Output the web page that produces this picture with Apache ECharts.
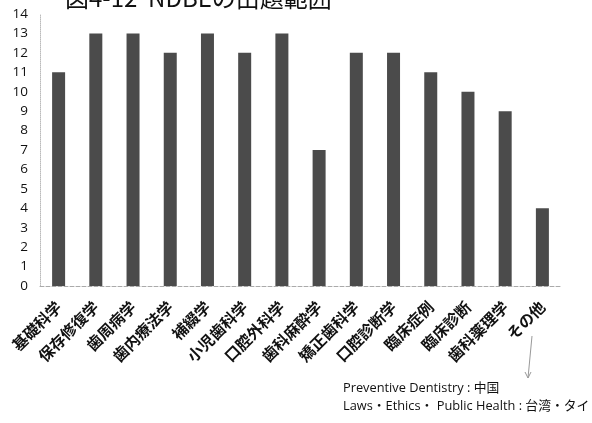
<!DOCTYPE html>
<html><head><meta charset="utf-8">
<script src="https://cdn.jsdelivr.net/npm/echarts@6/dist/echarts.min.js"></script>
<style>html,body{margin:0;padding:0;background:#fff}#c{width:592px;height:423px}</style>
</head><body><div id="c"></div>
<script>
const categories = ['基礎科学','保存修復学','歯周病学','歯内療法学','補綴学','小児歯科学','口腔外科学','歯科麻酔学','矯正歯科学','口腔診断学','臨床症例','臨床診断','歯科薬理学','その他'];
const counts = [11,13,13,12,13,12,13,7,12,12,11,10,9,4];
const yTicks = {min:0, max:14, interval:1};
const titleText = '図4-12  NDBEの出題範囲';
const noteLines = ['Preventive Dentistry : 中国','Laws・Ethics・ Public Health : 台湾・タイ'];

const chart = echarts.init(document.getElementById('c'));
chart.setOption({
  backgroundColor:'#fff',
  animation:false,
  title:{text:titleText,left:60,top:-19,textStyle:{fontFamily:'Noto Sans CJK JP',fontSize:24,fontWeight:'normal',color:'#111'}},
  grid:{left:40,right:31,top:14,bottom:137,containLabel:false},
  xAxis:{type:'category',data:categories,
    axisLine:{lineStyle:{color:'#aaa',width:1,type:'dashed'}},
    axisTick:{show:false},
    axisLabel:{rotate:45,interval:0,margin:18,fontFamily:'Noto Sans CJK JP',fontSize:15.5,fontWeight:'bold',color:'#111'}},
  yAxis:{type:'value',min:yTicks.min,max:yTicks.max,interval:yTicks.interval,
    axisLine:{show:true,lineStyle:{color:'#bbb',width:1,type:'dotted'}},
    axisTick:{show:false},
    splitLine:{show:false},
    axisLabel:{margin:12,fontFamily:'Open Sans',fontSize:13.5,color:'#111'}},
  series:[{type:'bar',data:counts,barWidth:13,itemStyle:{color:'#4b4b4b'}}],
  graphic:[
    {type:'line',shape:{x1:532,y1:336,x2:528,y2:378},style:{stroke:'#999',lineWidth:1}},
    {type:'polyline',shape:{points:[[525,372],[528,378],[531,372]]},style:{stroke:'#999',lineWidth:1,fill:null}},
    {type:'text',left:343,top:382,style:{text:noteLines[0],fontFamily:'Open Sans, Noto Sans CJK JP',fontSize:12.8,fill:'#111'}},
    {type:'text',left:343,top:400,style:{text:noteLines[1],fontFamily:'Open Sans, Noto Sans CJK JP',fontSize:12.8,fill:'#111'}}
  ]
});
</script></body></html>
